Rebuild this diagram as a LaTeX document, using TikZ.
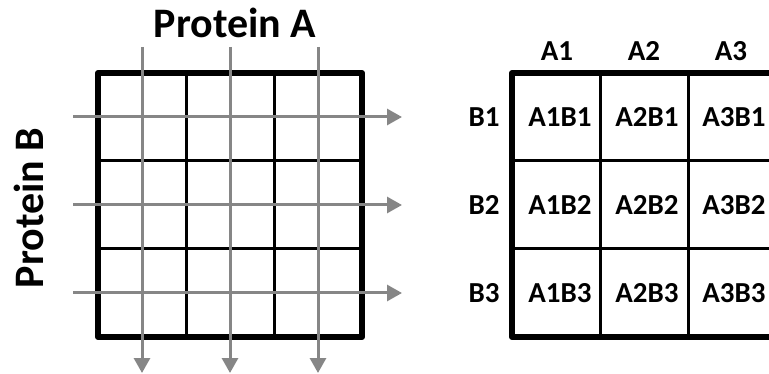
\documentclass[tikz,border=0pt]{standalone}
\usepackage{fontspec}
\setmainfont{Carlito}
\usetikzlibrary{arrows.meta}

\tikzset{
  frame/.style={line width=6pt, line join=round},
  cellline/.style={line width=3pt},
  probe/.style={draw=gray!95, line width=3pt, -{Triangle[length=15pt, width=16pt]}},
  big/.style={font=\fontsize{42}{46}\selectfont\bfseries},
  small/.style={font=\fontsize{29}{32}\selectfont\bfseries}
}

\begin{document}
\begin{tikzpicture}[x=1pt, y=-1pt]

        \useasboundingbox (0,0) rectangle (769,374);
        \clip (0,0) rectangle (769,374);

        % array of spots
        \draw[cellline] (186,73) -- (186,337) (274,73) -- (274,337)
                        (98,161) -- (362,161) (98,249) -- (362,249);
        \draw[frame] (98,73) rectangle (362,337);

        % probes
        \foreach \n/\x in {1/142, 2/230, 3/318} {
          \coordinate (top\n) at (\x,47);
          \coordinate (bot\n) at (\x,373);
          \path[probe] (top\n) -- (bot\n);
        }
        \foreach \n/\y in {1/117, 2/205, 3/293} {
          \coordinate (in\n) at (73,\y);
          \coordinate (out\n) at (402,\y);
          \path[probe] (in\n) -- (out\n);
        }

        \node[big, anchor=base] (pa) at (235,38) {Protein A};
        \node[big, anchor=base, rotate=90] (pb) at (43,208) {Protein B};

        % combinations
        \draw[cellline] (600,73) -- (600,337) (688,73) -- (688,337)
                        (512,161) -- (776,161) (512,249) -- (776,249);
        \draw[frame] (512,73) rectangle (776,337);

        \begin{scope}[every node/.style={small}]
          \foreach \i/\x in {1/557, 2/644, 3/731} {
            \node[anchor=base] (a\i) at (\x,61) {A\i};
          }
          \foreach \j/\y in {1/117, 2/205, 3/293} {
            \node (b\j) at (484,\y) {B\j};
            \foreach \i/\x in {1/560, 2/647, 3/734} {
              \node (a\i b\j) at (\x,\y) {A\i B\j};
            }
          }
        \end{scope}

      \end{tikzpicture}
\end{document}
